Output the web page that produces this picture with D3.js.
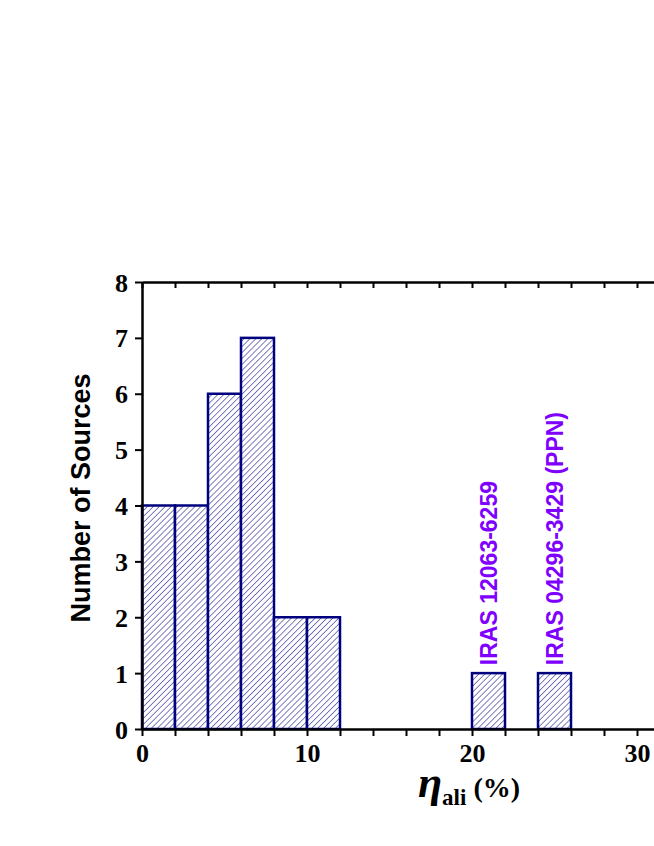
<!DOCTYPE html>
<html>
<head>
<meta charset="utf-8">
<script src="https://cdn.jsdelivr.net/npm/d3@7"></script>
<style>
  body { margin: 0; background: #fff; }
</style>
</head>
<body>
<svg width="654" height="846"></svg>
<script>
// histogram bins (left edge, width 2) and counts
var binStarts = [0, 2, 4, 6, 8, 10, 20, 24];
var binWidth = 2;
var counts = [4, 4, 6, 7, 2, 2, 1, 1];
var yTicks = [0, 1, 2, 3, 4, 5, 6, 7, 8];
var xTickLabels = [0, 10, 20, 30];
var annotations = [
  { bin: 20, text: "IRAS 12063-6259" },
  { bin: 24, text: "IRAS 04296-3429 (PPN)" }
];

var svg = d3.select("svg");
var plotLeft = 142, plotTop = 282, plotBottom = 729;
var x = d3.scaleLinear().domain([0, 32]).range([plotLeft, plotLeft + 32 * 16.5]);
var y = d3.scaleLinear().domain([0, 8]).range([plotBottom, plotTop]);

var navy = "#00007f";

// hatch pattern
var defs = svg.append("defs");
var pat = defs.append("pattern")
    .attr("id", "hatch")
    .attr("patternUnits", "userSpaceOnUse")
    .attr("width", 4.2).attr("height", 4.2)
    .attr("patternTransform", "rotate(45)");
pat.append("rect").attr("width", 4.2).attr("height", 4.2).attr("fill", "#fff");
pat.append("line")
    .attr("x1", 0).attr("y1", 0).attr("x2", 0).attr("y2", 4.2)
    .attr("stroke", navy).attr("stroke-width", 1);

var data = binStarts.map(function (b, i) { return { x0: b, x1: b + binWidth, n: counts[i] }; });

svg.selectAll(".bar")
    .data(data)
    .enter().append("rect")
    .attr("class", "bar")
    .attr("x", function (d) { return x(d.x0); })
    .attr("y", function (d) { return y(d.n); })
    .attr("width", function (d) { return x(d.x1) - x(d.x0); })
    .attr("height", function (d) { return y(0) - y(d.n); })
    .attr("fill", "url(#hatch)")
    .attr("stroke", navy)
    .attr("stroke-width", 2.5);

// axes
var xTickVals = d3.range(0, 33, 2);
var xaxis = svg.append("g")
    .attr("transform", "translate(0," + plotBottom + ")")
    .call(d3.axisBottom(x).tickValues(xTickVals).tickSize(7).tickSizeOuter(0)
        .tickFormat(function (d) { return xTickLabels.indexOf(d) >= 0 ? d : ""; }));
var xtop = svg.append("g")
    .attr("transform", "translate(0," + plotTop + ")")
    .call(d3.axisBottom(x).tickValues(xTickVals).tickSize(6).tickSizeOuter(0).tickFormat(""));
var yaxis = svg.append("g")
    .attr("transform", "translate(" + plotLeft + ",0)")
    .call(d3.axisLeft(y).tickValues(yTicks).tickSize(7).tickSizeOuter(0).tickFormat(d3.format("d")));

[xaxis, xtop, yaxis].forEach(function (a) {
    a.attr("font-size", null).attr("font-family", null);
    a.select(".domain").attr("stroke", "#000").attr("stroke-width", 2.5);
    a.selectAll(".tick line").attr("stroke", "#000").attr("stroke-width", 2);
    a.selectAll(".tick text")
        .attr("fill", "#000")
        .style("font-family", "'Liberation Serif', 'Times New Roman', serif")
        .style("font-weight", "bold")
        .style("font-size", "26px");
});
xaxis.selectAll(".tick text").attr("y", 15);
yaxis.selectAll(".tick text").attr("x", -14).attr("dy", "0.35em");

// annotations
svg.selectAll(".ann")
    .data(annotations)
    .enter().append("text")
    .attr("class", "ann")
    .attr("transform", function (d) {
        var bin = data.filter(function (b) { return b.x0 === d.bin; })[0];
        return "translate(" + (x(d.bin + binWidth / 2) + 8) + "," + (y(bin.n) - 8) + ") rotate(-90)";
    })
    .attr("fill", "#8000ff")
    .style("font-family", "'Liberation Sans', Arial, sans-serif")
    .style("font-weight", "bold")
    .style("font-size", "23px")
    .text(function (d) { return d.text; });

// axis titles
svg.append("text")
    .attr("transform", "translate(90,498) rotate(-90)")
    .attr("text-anchor", "middle")
    .style("font-family", "'Liberation Sans', Arial, sans-serif")
    .style("font-weight", "bold")
    .style("font-size", "27px")
    .text("Number of Sources");

var xt = svg.append("text")
    .attr("x", 469).attr("y", 797)
    .attr("text-anchor", "middle")
    .style("font-family", "'Liberation Serif', 'Times New Roman', serif")
    .style("font-weight", "bold");
xt.append("tspan").style("font-style", "italic").style("font-size", "44px").text("\u03b7");
xt.append("tspan").attr("dy", 8).style("font-size", "23px").text("ali");
xt.append("tspan").attr("dy", -8).style("font-size", "28px").text(" (%)");
</script>
</body>
</html>
